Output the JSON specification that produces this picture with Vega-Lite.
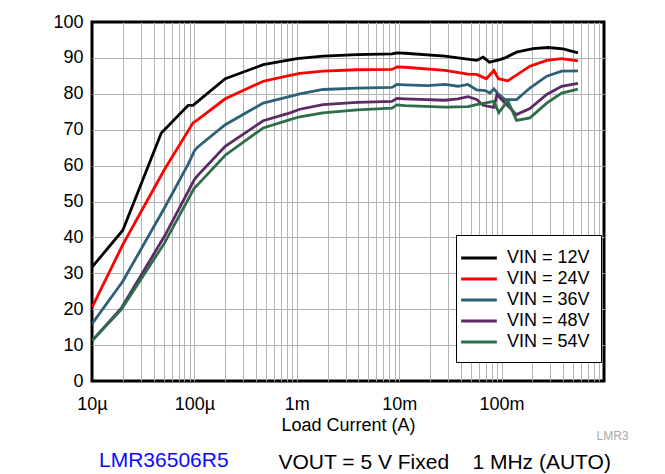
{
  "$schema": "https://vega.github.io/schema/vega-lite/v6.json",
  "width": 512,
  "height": 359,
  "autosize": {"type": "none"},
  "padding": {"left": 92, "top": 22, "right": 61, "bottom": 93},
  "background": "white",
  "view": {"stroke": "black", "strokeWidth": 3},
  "config": {"font": "Liberation Sans"},
  "title": {
    "text": "LMR36506R5",
    "orient": "bottom",
    "anchor": "start",
    "frame": "group",
    "color": "#0a0aff",
    "font": "Liberation Sans",
    "fontSize": 21,
    "fontWeight": "normal",
    "lineHeight": 21,
    "dx": 7,
    "offset": -22
  },
  "data": {
    "values": [
      {"s": "12", "I": 0.00001, "e": 31.7},
      {"s": "12", "I": 0.00002, "e": 42.0},
      {"s": "12", "I": 0.0000475, "e": 69.1},
      {"s": "12", "I": 0.000087, "e": 76.8},
      {"s": "12", "I": 0.000097, "e": 76.8},
      {"s": "12", "I": 0.000108, "e": 77.9},
      {"s": "12", "I": 0.0002, "e": 84.2},
      {"s": "12", "I": 0.00047, "e": 88.1},
      {"s": "12", "I": 0.001, "e": 89.8},
      {"s": "12", "I": 0.0018, "e": 90.5},
      {"s": "12", "I": 0.0039, "e": 90.9},
      {"s": "12", "I": 0.0085, "e": 91.1},
      {"s": "12", "I": 0.0095, "e": 91.4},
      {"s": "12", "I": 0.0114, "e": 91.3},
      {"s": "12", "I": 0.028, "e": 90.5},
      {"s": "12", "I": 0.057, "e": 89.3},
      {"s": "12", "I": 0.066, "e": 90.2},
      {"s": "12", "I": 0.076, "e": 88.8},
      {"s": "12", "I": 0.096, "e": 89.5},
      {"s": "12", "I": 0.108, "e": 90.0},
      {"s": "12", "I": 0.14, "e": 91.6},
      {"s": "12", "I": 0.203, "e": 92.6},
      {"s": "12", "I": 0.284, "e": 92.9},
      {"s": "12", "I": 0.398, "e": 92.5},
      {"s": "12", "I": 0.557, "e": 91.4},

      {"s": "24", "I": 0.00001, "e": 20.5},
      {"s": "24", "I": 0.00002, "e": 38.0},
      {"s": "24", "I": 0.000051, "e": 58.9},
      {"s": "24", "I": 0.000097, "e": 71.9},
      {"s": "24", "I": 0.000108, "e": 72.8},
      {"s": "24", "I": 0.0002, "e": 78.6},
      {"s": "24", "I": 0.00047, "e": 83.5},
      {"s": "24", "I": 0.00086, "e": 85.1},
      {"s": "24", "I": 0.00107, "e": 85.7},
      {"s": "24", "I": 0.0018, "e": 86.3},
      {"s": "24", "I": 0.0039, "e": 86.7},
      {"s": "24", "I": 0.0085, "e": 86.8},
      {"s": "24", "I": 0.0095, "e": 87.5},
      {"s": "24", "I": 0.0114, "e": 87.4},
      {"s": "24", "I": 0.028, "e": 86.5},
      {"s": "24", "I": 0.047, "e": 85.5},
      {"s": "24", "I": 0.057, "e": 85.4},
      {"s": "24", "I": 0.071, "e": 84.2},
      {"s": "24", "I": 0.084, "e": 86.5},
      {"s": "24", "I": 0.093, "e": 84.2},
      {"s": "24", "I": 0.115, "e": 83.6},
      {"s": "24", "I": 0.189, "e": 87.7},
      {"s": "24", "I": 0.276, "e": 89.3},
      {"s": "24", "I": 0.386, "e": 89.8},
      {"s": "24", "I": 0.557, "e": 89.2},

      {"s": "36", "I": 0.00001, "e": 15.9},
      {"s": "36", "I": 0.00002, "e": 27.8},
      {"s": "36", "I": 0.000051, "e": 48.2},
      {"s": "36", "I": 0.000087, "e": 60.4},
      {"s": "36", "I": 0.0001, "e": 64.1},
      {"s": "36", "I": 0.000108, "e": 65.2},
      {"s": "36", "I": 0.0002, "e": 71.4},
      {"s": "36", "I": 0.00047, "e": 77.4},
      {"s": "36", "I": 0.00086, "e": 79.3},
      {"s": "36", "I": 0.00107, "e": 80.0},
      {"s": "36", "I": 0.0018, "e": 81.2},
      {"s": "36", "I": 0.0039, "e": 81.6},
      {"s": "36", "I": 0.0085, "e": 81.8},
      {"s": "36", "I": 0.0095, "e": 82.6},
      {"s": "36", "I": 0.0114, "e": 82.5},
      {"s": "36", "I": 0.019, "e": 82.3},
      {"s": "36", "I": 0.028, "e": 82.6},
      {"s": "36", "I": 0.0375, "e": 82.1},
      {"s": "36", "I": 0.047, "e": 82.6},
      {"s": "36", "I": 0.057, "e": 81.1},
      {"s": "36", "I": 0.069, "e": 80.9},
      {"s": "36", "I": 0.077, "e": 80.2},
      {"s": "36", "I": 0.084, "e": 81.4},
      {"s": "36", "I": 0.093, "e": 79.9},
      {"s": "36", "I": 0.108, "e": 78.4},
      {"s": "36", "I": 0.14, "e": 78.4},
      {"s": "36", "I": 0.189, "e": 81.6},
      {"s": "36", "I": 0.276, "e": 84.9},
      {"s": "36", "I": 0.386, "e": 86.3},
      {"s": "36", "I": 0.557, "e": 86.4},

      {"s": "48", "I": 0.00001, "e": 11.2},
      {"s": "48", "I": 0.0000193, "e": 20.3},
      {"s": "48", "I": 0.000051, "e": 40.3},
      {"s": "48", "I": 0.0001, "e": 56.1},
      {"s": "48", "I": 0.000108, "e": 57.3},
      {"s": "48", "I": 0.0002, "e": 65.4},
      {"s": "48", "I": 0.00047, "e": 72.5},
      {"s": "48", "I": 0.00086, "e": 74.7},
      {"s": "48", "I": 0.00107, "e": 75.7},
      {"s": "48", "I": 0.0018, "e": 77.0},
      {"s": "48", "I": 0.0039, "e": 77.6},
      {"s": "48", "I": 0.0085, "e": 77.9},
      {"s": "48", "I": 0.0095, "e": 78.7},
      {"s": "48", "I": 0.0114, "e": 78.6},
      {"s": "48", "I": 0.028, "e": 78.2},
      {"s": "48", "I": 0.0375, "e": 78.6},
      {"s": "48", "I": 0.047, "e": 79.2},
      {"s": "48", "I": 0.057, "e": 78.4},
      {"s": "48", "I": 0.066, "e": 76.8},
      {"s": "48", "I": 0.084, "e": 76.2},
      {"s": "48", "I": 0.09, "e": 79.7},
      {"s": "48", "I": 0.14, "e": 74.2},
      {"s": "48", "I": 0.189, "e": 75.9},
      {"s": "48", "I": 0.276, "e": 79.8},
      {"s": "48", "I": 0.386, "e": 82.1},
      {"s": "48", "I": 0.557, "e": 82.9},

      {"s": "54", "I": 0.00001, "e": 11.2},
      {"s": "54", "I": 0.0000193, "e": 19.9},
      {"s": "54", "I": 0.000051, "e": 38.4},
      {"s": "54", "I": 0.0001, "e": 53.8},
      {"s": "54", "I": 0.000108, "e": 54.7},
      {"s": "54", "I": 0.0002, "e": 62.9},
      {"s": "54", "I": 0.00047, "e": 70.5},
      {"s": "54", "I": 0.00086, "e": 72.8},
      {"s": "54", "I": 0.00107, "e": 73.6},
      {"s": "54", "I": 0.0018, "e": 74.7},
      {"s": "54", "I": 0.0039, "e": 75.5},
      {"s": "54", "I": 0.0085, "e": 76.0},
      {"s": "54", "I": 0.0095, "e": 76.9},
      {"s": "54", "I": 0.0114, "e": 76.7},
      {"s": "54", "I": 0.028, "e": 76.3},
      {"s": "54", "I": 0.047, "e": 76.4},
      {"s": "54", "I": 0.057, "e": 77.0},
      {"s": "54", "I": 0.084, "e": 77.9},
      {"s": "54", "I": 0.094, "e": 74.8},
      {"s": "54", "I": 0.115, "e": 78.0},
      {"s": "54", "I": 0.14, "e": 72.6},
      {"s": "54", "I": 0.189, "e": 73.3},
      {"s": "54", "I": 0.276, "e": 77.4},
      {"s": "54", "I": 0.386, "e": 80.2},
      {"s": "54", "I": 0.557, "e": 81.3}
    ]
  },
  "layer": [
    {
      "mark": {"type": "line", "strokeWidth": 2.8, "clip": true},
      "encoding": {
        "x": {
          "field": "I",
          "type": "quantitative",
          "scale": {"type": "log", "domain": [0.00001, 1], "nice": false},
          "axis": {
            "values": [0.00001, 0.00002, 0.00003, 0.00004, 0.00005, 0.00006, 0.00007, 0.00008, 0.00009,
                       0.0001, 0.0002, 0.0003, 0.0004, 0.0005, 0.0006, 0.0007, 0.0008, 0.0009,
                       0.001, 0.002, 0.003, 0.004, 0.005, 0.006, 0.007, 0.008, 0.009,
                       0.01, 0.02, 0.03, 0.04, 0.05, 0.06, 0.07, 0.08, 0.09,
                       0.1, 0.2, 0.3, 0.4, 0.5, 0.6, 0.7, 0.8, 0.9, 1],
            "labelExpr": "datum.value < 1.5e-5 ? '10µ' : (datum.value > 0.95e-4 && datum.value < 1.05e-4) ? '100µ' : (datum.value > 0.95e-3 && datum.value < 1.05e-3) ? '1m' : (datum.value > 0.0095 && datum.value < 0.0105) ? '10m' : (datum.value > 0.095 && datum.value < 0.105) ? '100m' : ''",
            "labelOverlap": false,
            "labelFlush": false,
            "labelFont": "Liberation Sans",
            "labelFontSize": 18,
            "labelColor": "black",
            "labelPadding": 14,
            "ticks": false,
            "domain": false,
            "grid": true,
            "gridColor": "#b4b4b4",
            "gridWidth": 1,
            "gridOpacity": {"condition": {"test": "datum.value < 1.01e-5 || datum.value > 0.99", "value": 0}, "value": 1},
            "title": "Load Current (A)",
            "titleFont": "Liberation Sans",
            "titleFontSize": 18,
            "titleFontWeight": "normal",
            "titleColor": "black",
            "titlePadding": 3
          }
        },
        "y": {
          "field": "e",
          "type": "quantitative",
          "scale": {"domain": [0, 100], "nice": false},
          "axis": {
            "values": [0, 10, 20, 30, 40, 50, 60, 70, 80, 90, 100],
            "labelFont": "Liberation Sans",
            "labelFontSize": 18,
            "labelColor": "black",
            "labelPadding": 9,
            "ticks": false,
            "domain": false,
            "grid": true,
            "gridColor": "#b4b4b4",
            "gridWidth": 1,
            "gridOpacity": {"condition": {"test": "datum.value == 0 || datum.value == 100", "value": 0}, "value": 1},
            "title": "VOUT = 5 V Fixed\u00a0\u00a0\u00a0\u00a01 MHz (AUTO)",
            "titleAngle": 0,
            "titleX": 186,
            "titleY": 440,
            "titleAlign": "left",
            "titleBaseline": "middle",
            "titleColor": "black",
            "titleFont": "Liberation Sans",
            "titleFontSize": 21,
            "titleFontWeight": "normal"
          }
        },
        "color": {
          "field": "s",
          "type": "nominal",
          "scale": {"domain": ["12", "24", "36", "48", "54"], "range": ["#000000", "#ff0000", "#2e6178", "#5c2b63", "#2d6e4a"]},
          "legend": {
            "orient": "none",
            "legendX": 364,
            "legendY": 213,
            "title": null,
            "labelExpr": "'VIN = ' + datum.label + 'V'",
            "fillColor": "white",
            "strokeColor": "black",
            "padding": 11,
            "symbolType": "M-1.7,0H1.7",
            "symbolSize": 441,
            "symbolStrokeWidth": 3,
            "symbolFillColor": "transparent",
            "labelFont": "Liberation Sans",
            "labelFontSize": 18,
            "labelColor": "black",
            "labelOffset": 16,
            "labelLimit": 200,
            "rowPadding": 0
          }
        }
      }
    },
    {
      "mark": {"type": "line", "opacity": 0, "clip": true},
      "encoding": {
        "x": {"field": "I", "type": "quantitative"},
        "y": {
          "field": "e",
          "type": "quantitative",
          "axis": {
            "orient": "right",
            "labels": false,
            "ticks": false,
            "domain": false,
            "grid": false,
            "title": "LMR3",
            "titleAngle": 0,
            "titleX": 24,
            "titleY": 413,
            "titleAlign": "right",
            "titleBaseline": "middle",
            "titleColor": "#a8a8a8",
            "titleFont": "Liberation Sans",
            "titleFontSize": 12,
            "titleFontWeight": "normal"
          }
        },
        "detail": {"field": "s"}
      }
    }
  ],
  "resolve": {"axis": {"y": "independent"}}
}
